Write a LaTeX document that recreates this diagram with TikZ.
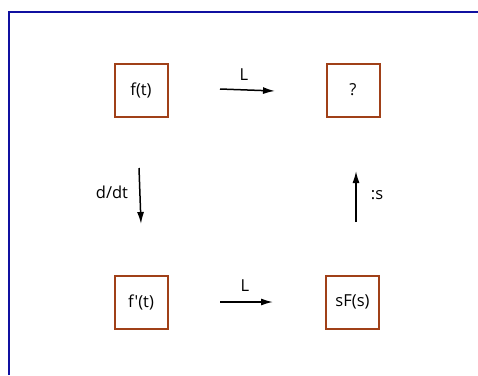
\documentclass[tikz,border=0pt]{standalone}
\usepackage{fontspec}
\newfontfamily\labfont{Open Sans}
\usetikzlibrary{arrows.meta}
\definecolor{framecol}{RGB}{16,16,160}
\definecolor{boxcol}{RGB}{160,64,24}
\begin{document}
\begin{tikzpicture}[x=1pt,y=-1pt,
  box/.style={draw=boxcol,line width=2pt,minimum width=53pt,minimum height=53pt,inner sep=0pt,font=\labfont\fontsize{16.5}{19}\selectfont},
  lab/.style={font=\labfont\fontsize{16.5}{19}\selectfont,inner sep=1pt},
  arr/.style={line width=1.5pt,-{Latex[length=12pt,width=7pt]}}]
\useasboundingbox (0,0) rectangle (478,375);
\draw[framecol,line width=2.4pt] (9,375) -- (9,12) -- (478,12);
\node[box] (ft) at (141,90) {f(t)};
\node[box] (q) at (353,90) {?};
\node[box] (fpt) at (141,302) {f'(t)};
\node[box] (sfs) at (352.5,302) {sF(s)};
\coordinate (a1s) at (220,89);
\coordinate (a1e) at (275,91);
\draw[arr] (a1s) -- (a1e);
\node[lab] (l1) at (244,75) {L};
\coordinate (a2s) at (220,302);
\coordinate (a2e) at (273,302);
\draw[arr] (a2s) -- (a2e);
\node[lab] (l2) at (245,286) {L};
\coordinate (a3s) at (139,168);
\coordinate (a3e) at (141,224);
\draw[arr] (a3s) -- (a3e);
\node[lab] (l3) at (112,192) {d/dt};
\coordinate (a4s) at (356,222);
\coordinate (a4e) at (356,171);
\draw[arr] (a4s) -- (a4e);
\node[lab] (l4) at (377,195) {:s};
\end{tikzpicture}
\end{document}
